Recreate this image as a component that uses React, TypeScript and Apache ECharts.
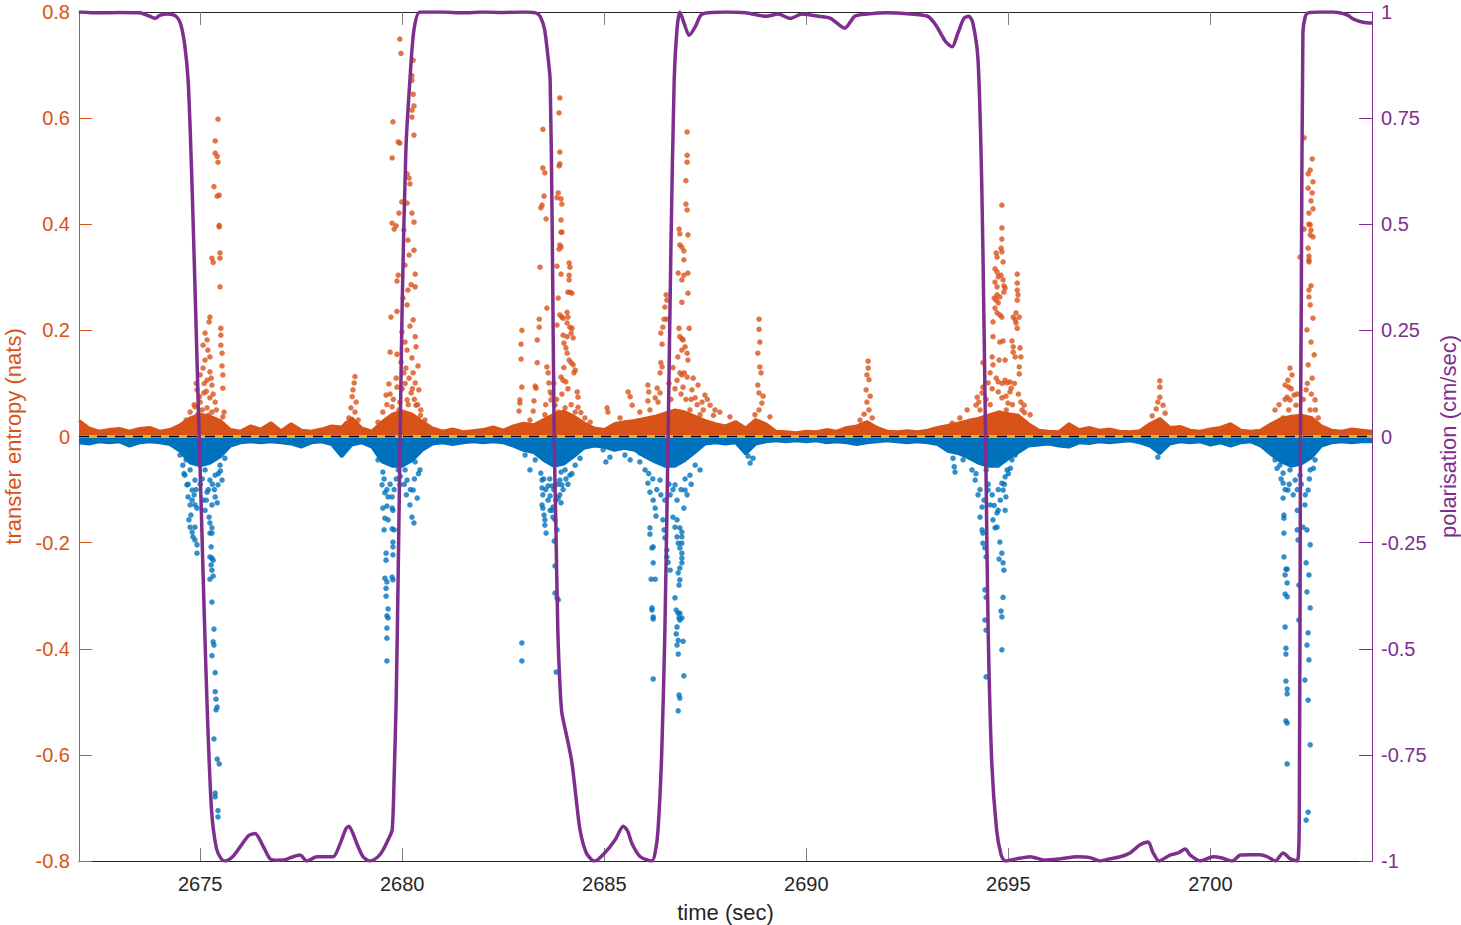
import React, { useEffect, useRef } from "react";
import * as echarts from "echarts";

type Pt = [number, number];

const FONT = "'Liberation Sans', Arial, Helvetica, sans-serif";
const ORANGE = "#D95319";
const BLUE = "#0072BD";
const YELLOW = "#EDB120";
const PURPLE = "#7E2F8E";
const INK = "#262626";
const TICK_GRAY = "#7f7f7f";

// axis ranges and tick positions
const timeMin = 2672;
const timeMax = 2704;
const timeTicks = [2675, 2680, 2685, 2690, 2695, 2700];
const entropyMin = -0.8;
const entropyMax = 0.8;
const entropyStep = 0.2;
const polarMin = -1;
const polarMax = 1;
const polarStep = 0.25;

// polarisation trace (cm/sec), right axis
const polarisation: Pt[] = [
  [2672.0, 1.0], [2672.5, 0.998], [2673.0, 0.999], [2673.5, 0.998], [2673.75, 0.99],
  [2673.88, 0.985], [2674.0, 0.992], [2674.2, 0.995], [2674.4, 0.99], [2674.52, 0.97],
  [2674.62, 0.92], [2674.7, 0.84], [2674.76, 0.7], [2674.82, 0.52], [2674.88, 0.32],
  [2674.95, 0.08], [2675.02, -0.15], [2675.1, -0.42], [2675.18, -0.66], [2675.28, -0.88],
  [2675.4, -0.97], [2675.52, -0.995], [2675.61, -1.0], [2675.8, -0.99], [2676.0, -0.965],
  [2676.2, -0.94], [2676.36, -0.935], [2676.53, -0.96], [2676.73, -0.995], [2676.9, -0.998],
  [2677.1, -0.997], [2677.3, -0.99], [2677.47, -0.986], [2677.64, -1.0], [2677.89, -0.99],
  [2678.1, -0.99], [2678.29, -0.99], [2678.46, -0.96], [2678.6, -0.925], [2678.68, -0.918],
  [2678.78, -0.935], [2678.88, -0.96], [2679.03, -0.99], [2679.2, -1.0], [2679.4, -0.99],
  [2679.52, -0.975], [2679.65, -0.95], [2679.75, -0.927], [2679.8, -0.8], [2679.85, -0.62],
  [2679.9, -0.32], [2679.95, 0.015], [2680.0, 0.32], [2680.09, 0.675], [2680.19, 0.84],
  [2680.29, 0.958], [2680.44, 1.0], [2681.0, 1.0], [2681.5, 0.998], [2682.0, 1.0],
  [2682.5, 0.999], [2683.0, 1.0], [2683.3, 0.998], [2683.41, 0.99], [2683.52, 0.96],
  [2683.6, 0.9], [2683.66, 0.84], [2683.71, 0.5], [2683.76, 0.0], [2683.8, -0.2],
  [2683.85, -0.456], [2683.9, -0.58], [2683.95, -0.651], [2684.08, -0.71], [2684.2, -0.769],
  [2684.3, -0.85], [2684.4, -0.927], [2684.55, -0.98], [2684.7, -0.998], [2684.77, -1.0],
  [2685.02, -0.98], [2685.27, -0.95], [2685.47, -0.918], [2685.58, -0.93], [2685.69, -0.96],
  [2685.89, -0.99], [2686.18, -1.0], [2686.26, -0.98], [2686.33, -0.927], [2686.42, -0.75],
  [2686.5, -0.456], [2686.58, 0.0], [2686.65, 0.45], [2686.73, 0.84], [2686.8, 0.96],
  [2686.87, 1.0], [2686.97, 0.975], [2687.1, 0.945], [2687.25, 0.965], [2687.42, 0.995],
  [2688.0, 1.0], [2688.5, 0.998], [2689.0, 0.99], [2689.3, 0.995], [2689.6, 0.985],
  [2689.9, 0.995], [2690.3, 0.99], [2690.6, 0.985], [2690.95, 0.962], [2691.2, 0.99],
  [2691.5, 0.995], [2692.0, 0.998], [2692.5, 0.996], [2693.0, 0.99], [2693.2, 0.97],
  [2693.45, 0.93], [2693.61, 0.918], [2693.75, 0.95], [2693.9, 0.985], [2694.02, 0.99],
  [2694.12, 0.975], [2694.25, 0.887], [2694.34, 0.604], [2694.4, 0.25], [2694.45, -0.102],
  [2694.5, -0.456], [2694.59, -0.769], [2694.71, -0.927], [2694.82, -0.985], [2694.92, -1.0],
  [2695.2, -0.995], [2695.54, -0.99], [2695.9, -0.998], [2696.28, -0.995], [2696.7, -0.99],
  [2697.02, -0.992], [2697.27, -1.0], [2697.5, -0.995], [2697.77, -0.99], [2698.01, -0.981],
  [2698.26, -0.962], [2698.46, -0.955], [2698.58, -0.98], [2698.73, -1.0], [2699.0, -0.986],
  [2699.2, -0.981], [2699.38, -0.972], [2699.5, -0.986], [2699.75, -1.0], [2700.07, -0.99],
  [2700.29, -0.993], [2700.54, -1.0], [2700.74, -0.986], [2701.0, -0.985], [2701.23, -0.985],
  [2701.41, -0.99], [2701.61, -1.0], [2701.8, -0.981], [2701.98, -0.995], [2702.15, -1.0],
  [2702.2, -0.9], [2702.23, 0.0], [2702.25, 0.32], [2702.29, 0.95], [2702.35, 0.99],
  [2702.42, 0.998], [2702.7, 1.0], [2703.04, 1.0], [2703.39, 0.993], [2703.53, 0.984],
  [2703.78, 0.976], [2704.0, 0.974],
];

// dense near-zero transfer entropy: upper edge of the positive band (nats)
const positiveBand: Pt[] = [
  [2672.0, 0.03], [2672.25, 0.016], [2672.5, 0.01], [2672.75, 0.013], [2673.0, 0.015],
  [2673.25, 0.01], [2673.5, 0.015], [2673.75, 0.017], [2674.0, 0.01], [2674.25, 0.013],
  [2674.5, 0.022], [2674.75, 0.035], [2675.0, 0.042], [2675.25, 0.038], [2675.5, 0.03],
  [2675.75, 0.013], [2676.0, 0.01], [2676.25, 0.02], [2676.5, 0.014], [2676.75, 0.026],
  [2677.0, 0.011], [2677.25, 0.024], [2677.5, 0.012], [2677.75, 0.01], [2678.0, 0.014],
  [2678.25, 0.02], [2678.5, 0.018], [2678.75, 0.035], [2679.0, 0.016], [2679.25, 0.01],
  [2679.5, 0.028], [2679.75, 0.042], [2680.0, 0.048], [2680.25, 0.042], [2680.5, 0.028],
  [2680.75, 0.016], [2681.0, 0.01], [2681.25, 0.014], [2681.5, 0.009], [2681.75, 0.011],
  [2682.0, 0.013], [2682.25, 0.018], [2682.5, 0.012], [2682.75, 0.02], [2683.0, 0.025],
  [2683.25, 0.022], [2683.5, 0.032], [2683.75, 0.042], [2684.0, 0.048], [2684.25, 0.038],
  [2684.5, 0.026], [2684.75, 0.016], [2685.0, 0.013], [2685.25, 0.024], [2685.5, 0.028],
  [2685.75, 0.03], [2686.0, 0.034], [2686.25, 0.038], [2686.5, 0.044], [2686.75, 0.05],
  [2687.0, 0.046], [2687.25, 0.038], [2687.5, 0.03], [2687.75, 0.024], [2688.0, 0.02],
  [2688.25, 0.028], [2688.5, 0.016], [2688.75, 0.032], [2689.0, 0.024], [2689.25, 0.01],
  [2689.5, 0.009], [2689.75, 0.007], [2690.0, 0.01], [2690.25, 0.009], [2690.5, 0.013],
  [2690.75, 0.01], [2691.0, 0.017], [2691.25, 0.02], [2691.5, 0.028], [2691.75, 0.017],
  [2692.0, 0.01], [2692.25, 0.009], [2692.5, 0.011], [2692.75, 0.009], [2693.0, 0.012],
  [2693.25, 0.017], [2693.5, 0.021], [2693.75, 0.025], [2694.0, 0.03], [2694.25, 0.034],
  [2694.5, 0.04], [2694.75, 0.046], [2695.0, 0.043], [2695.25, 0.04], [2695.5, 0.024],
  [2695.75, 0.012], [2696.0, 0.01], [2696.25, 0.009], [2696.5, 0.024], [2696.75, 0.013],
  [2697.0, 0.017], [2697.25, 0.012], [2697.5, 0.014], [2697.75, 0.01], [2698.0, 0.009],
  [2698.25, 0.011], [2698.5, 0.024], [2698.75, 0.034], [2699.0, 0.017], [2699.25, 0.019],
  [2699.5, 0.012], [2699.75, 0.01], [2700.0, 0.014], [2700.25, 0.017], [2700.5, 0.024],
  [2700.75, 0.012], [2701.0, 0.01], [2701.25, 0.012], [2701.5, 0.024], [2701.75, 0.034],
  [2702.0, 0.038], [2702.25, 0.04], [2702.5, 0.036], [2702.75, 0.02], [2703.0, 0.012],
  [2703.25, 0.01], [2703.5, 0.014], [2703.75, 0.012], [2704.0, 0.01],
];

// lower edge of the negative band (nats)
const negativeBand: Pt[] = [
  [2672.0, -0.012], [2672.25, -0.014], [2672.5, -0.01], [2672.75, -0.012], [2673.0, -0.01],
  [2673.25, -0.018], [2673.5, -0.012], [2673.75, -0.01], [2674.0, -0.012], [2674.25, -0.015],
  [2674.5, -0.028], [2674.75, -0.05], [2675.0, -0.055], [2675.25, -0.05], [2675.5, -0.038],
  [2675.75, -0.018], [2676.0, -0.012], [2676.25, -0.01], [2676.5, -0.012], [2676.75, -0.01],
  [2677.0, -0.012], [2677.25, -0.014], [2677.5, -0.02], [2677.75, -0.012], [2678.0, -0.01],
  [2678.25, -0.015], [2678.5, -0.038], [2678.75, -0.016], [2679.0, -0.012], [2679.25, -0.02],
  [2679.5, -0.048], [2679.75, -0.056], [2680.0, -0.056], [2680.25, -0.045], [2680.5, -0.026],
  [2680.75, -0.014], [2681.0, -0.012], [2681.25, -0.015], [2681.5, -0.012], [2681.75, -0.01],
  [2682.0, -0.012], [2682.25, -0.01], [2682.5, -0.012], [2682.75, -0.018], [2683.0, -0.026],
  [2683.25, -0.03], [2683.5, -0.045], [2683.75, -0.056], [2684.0, -0.052], [2684.25, -0.038],
  [2684.5, -0.022], [2684.75, -0.018], [2685.0, -0.02], [2685.25, -0.026], [2685.5, -0.022],
  [2685.75, -0.026], [2686.0, -0.038], [2686.25, -0.048], [2686.5, -0.056], [2686.75, -0.056],
  [2687.0, -0.045], [2687.25, -0.03], [2687.5, -0.014], [2687.75, -0.012], [2688.0, -0.014],
  [2688.25, -0.012], [2688.5, -0.033], [2688.75, -0.014], [2689.0, -0.01], [2689.25, -0.008],
  [2689.5, -0.01], [2689.75, -0.008], [2690.0, -0.01], [2690.25, -0.008], [2690.5, -0.012],
  [2690.75, -0.01], [2691.0, -0.012], [2691.25, -0.015], [2691.5, -0.012], [2691.75, -0.01],
  [2692.0, -0.008], [2692.25, -0.01], [2692.5, -0.012], [2692.75, -0.01], [2693.0, -0.012],
  [2693.25, -0.015], [2693.5, -0.028], [2693.75, -0.032], [2694.0, -0.04], [2694.25, -0.05],
  [2694.5, -0.056], [2694.75, -0.056], [2695.0, -0.042], [2695.25, -0.03], [2695.5, -0.018],
  [2695.75, -0.016], [2696.0, -0.014], [2696.25, -0.018], [2696.5, -0.02], [2696.75, -0.012],
  [2697.0, -0.013], [2697.25, -0.01], [2697.5, -0.012], [2697.75, -0.01], [2698.0, -0.008],
  [2698.25, -0.012], [2698.5, -0.018], [2698.75, -0.032], [2699.0, -0.014], [2699.25, -0.01],
  [2699.5, -0.012], [2699.75, -0.01], [2700.0, -0.016], [2700.25, -0.012], [2700.5, -0.018],
  [2700.75, -0.012], [2701.0, -0.01], [2701.25, -0.018], [2701.5, -0.034], [2701.75, -0.048],
  [2702.0, -0.056], [2702.25, -0.052], [2702.5, -0.04], [2702.75, -0.018], [2703.0, -0.012],
  [2703.25, -0.01], [2703.5, -0.012], [2703.75, -0.01], [2704.0, -0.01],
];

// positive transfer entropy samples, burst by burst
const positive2675: Pt[] = [
  [2675.44, 0.598], [2675.37, 0.557], [2675.37, 0.534], [2675.42, 0.528], [2675.44, 0.517],
  [2675.34, 0.471], [2675.42, 0.453], [2675.47, 0.455], [2675.47, 0.398], [2675.47, 0.395],
  [2675.49, 0.346], [2675.29, 0.336], [2675.32, 0.328], [2675.49, 0.336], [2675.49, 0.282],
  [2675.24, 0.225], [2675.22, 0.216], [2675.51, 0.204], [2675.51, 0.191], [2675.51, 0.172],
  [2675.54, 0.157], [2675.54, 0.133], [2675.56, 0.116], [2675.56, 0.091], [2675.59, 0.046],
  [2675.56, 0.037], [2675.12, 0.195], [2675.17, 0.182], [2675.07, 0.172], [2675.19, 0.163],
  [2675.24, 0.15], [2675.12, 0.144], [2675.07, 0.129], [2675.24, 0.122], [2675.0, 0.116],
  [2675.17, 0.106], [2675.29, 0.097], [2674.92, 0.088], [2675.09, 0.082], [2675.24, 0.073],
  [2675.0, 0.065], [2675.37, 0.065], [2674.87, 0.056], [2675.17, 0.054], [2675.29, 0.046],
  [2674.75, 0.046], [2674.94, 0.041], [2675.07, 0.035], [2674.65, 0.031], [2675.37, 0.031],
  [2674.85, 0.06], [2674.98, 0.075], [2675.05, 0.05], [2675.15, 0.085], [2675.2, 0.04],
  [2675.32, 0.08], [2675.4, 0.05], [2675.27, 0.11], [2674.9, 0.1], [2675.1, 0.1],
];
const positive2678: Pt[] = [
  [2678.83, 0.113], [2678.81, 0.101], [2678.78, 0.088], [2678.76, 0.075], [2678.86, 0.065],
  [2678.73, 0.054], [2678.83, 0.046], [2678.68, 0.035], [2678.91, 0.031], [2678.61, 0.024],
];
const positive2680: Pt[] = [
  [2679.94, 0.749], [2679.97, 0.722], [2680.27, 0.709], [2680.24, 0.68], [2680.24, 0.671],
  [2680.27, 0.645], [2680.29, 0.623], [2680.24, 0.615], [2680.24, 0.602], [2679.77, 0.593],
  [2680.29, 0.568], [2679.9, 0.555], [2679.94, 0.553], [2679.75, 0.525], [2680.12, 0.495],
  [2680.17, 0.487], [2680.19, 0.476], [2679.99, 0.442], [2680.12, 0.44], [2680.24, 0.421],
  [2679.92, 0.421], [2679.75, 0.402], [2680.29, 0.404], [2679.85, 0.397], [2679.8, 0.391],
  [2680.04, 0.389], [2680.14, 0.37], [2680.29, 0.351], [2680.17, 0.342], [2680.07, 0.323],
  [2679.9, 0.304], [2680.32, 0.306], [2679.87, 0.293], [2680.22, 0.286], [2680.32, 0.282],
  [2680.14, 0.276], [2680.02, 0.261], [2680.12, 0.248], [2679.87, 0.236], [2679.72, 0.225],
  [2680.27, 0.22], [2680.19, 0.208], [2679.99, 0.197], [2680.32, 0.188], [2680.07, 0.178],
  [2680.34, 0.169], [2680.12, 0.163], [2679.7, 0.159], [2679.87, 0.155], [2680.24, 0.148],
  [2679.97, 0.14], [2680.39, 0.133], [2680.09, 0.129], [2680.27, 0.12], [2680.04, 0.12],
  [2680.17, 0.11], [2680.32, 0.101], [2679.67, 0.099], [2679.87, 0.093], [2680.41, 0.088],
  [2680.22, 0.082], [2679.6, 0.078], [2680.12, 0.069], [2679.94, 0.065], [2680.34, 0.059],
  [2679.75, 0.056], [2680.46, 0.05], [2679.52, 0.046], [2680.04, 0.042], [2680.19, 0.035],
  [2679.82, 0.031], [2680.56, 0.031], [2679.4, 0.027],
  [2679.62, 0.06], [2679.7, 0.08], [2679.78, 0.07], [2679.85, 0.11], [2679.92, 0.05],
  [2680.0, 0.09], [2680.07, 0.1], [2680.15, 0.06], [2680.25, 0.09], [2680.3, 0.07],
  [2680.38, 0.06], [2680.45, 0.04],
];
const positive2684: Pt[] = [
  [2683.9, 0.638], [2683.88, 0.61], [2683.48, 0.579], [2683.48, 0.506], [2683.53, 0.497],
  [2683.9, 0.536], [2683.9, 0.514], [2683.88, 0.51], [2683.51, 0.453], [2683.46, 0.436],
  [2683.43, 0.431], [2683.56, 0.41], [2683.86, 0.459], [2683.83, 0.45], [2683.93, 0.448],
  [2683.95, 0.438], [2683.93, 0.408], [2683.93, 0.385], [2683.95, 0.385], [2683.88, 0.353],
  [2683.9, 0.361], [2683.93, 0.357], [2683.41, 0.319], [2683.83, 0.321], [2683.93, 0.306],
  [2684.13, 0.327], [2684.15, 0.319], [2684.13, 0.304], [2684.13, 0.295], [2683.58, 0.242],
  [2683.86, 0.261], [2684.1, 0.272], [2684.15, 0.272], [2684.2, 0.27], [2683.39, 0.221],
  [2683.39, 0.206], [2682.96, 0.2], [2682.94, 0.174], [2682.94, 0.146], [2683.34, 0.182],
  [2683.34, 0.139], [2683.9, 0.229], [2683.95, 0.225], [2683.98, 0.223], [2684.08, 0.234],
  [2684.1, 0.225], [2684.08, 0.214], [2683.83, 0.21], [2683.98, 0.191], [2684.08, 0.188],
  [2684.15, 0.206], [2684.2, 0.204], [2684.18, 0.195], [2684.23, 0.186], [2684.0, 0.176],
  [2684.05, 0.167], [2684.08, 0.157], [2682.96, 0.093], [2683.29, 0.095], [2683.31, 0.091],
  [2682.91, 0.069], [2682.91, 0.063], [2682.89, 0.048], [2683.26, 0.067], [2683.24, 0.048],
  [2683.58, 0.131], [2683.61, 0.12], [2684.13, 0.144], [2684.18, 0.139], [2684.23, 0.135],
  [2684.28, 0.125], [2684.25, 0.12], [2683.93, 0.112], [2683.98, 0.106], [2684.05, 0.103],
  [2684.33, 0.084], [2684.35, 0.074], [2683.63, 0.101], [2683.66, 0.084], [2683.68, 0.069],
  [2683.78, 0.059], [2684.03, 0.054], [2683.86, 0.046], [2683.53, 0.041], [2684.28, 0.046],
  [2684.52, 0.035], [2683.16, 0.031], [2684.65, 0.027],
  [2683.55, 0.06], [2683.7, 0.08], [2683.75, 0.1], [2683.82, 0.07], [2683.95, 0.08],
  [2684.0, 0.13], [2684.1, 0.09], [2684.18, 0.06], [2684.35, 0.055], [2684.42, 0.045],
  [2685.07, 0.054], [2685.09, 0.046], [2685.59, 0.084], [2685.64, 0.075], [2685.69, 0.059],
  [2686.08, 0.097], [2686.1, 0.084], [2686.08, 0.067], [2686.13, 0.05], [2685.88, 0.046],
  [2685.39, 0.035], [2686.26, 0.073], [2686.31, 0.091],
];
const positive2687: Pt[] = [
  [2687.05, 0.574], [2687.05, 0.53], [2687.05, 0.517], [2687.02, 0.482], [2687.02, 0.438],
  [2687.05, 0.427], [2686.85, 0.391], [2686.87, 0.382], [2687.07, 0.38], [2686.87, 0.361],
  [2686.92, 0.357], [2686.97, 0.35], [2686.97, 0.333], [2686.83, 0.308], [2686.92, 0.295],
  [2687.07, 0.308], [2686.97, 0.304], [2687.07, 0.27], [2686.92, 0.253], [2686.53, 0.267],
  [2686.55, 0.257], [2686.5, 0.244], [2686.48, 0.221], [2686.55, 0.221], [2686.45, 0.206],
  [2686.4, 0.195], [2686.43, 0.174], [2686.85, 0.204], [2687.1, 0.204], [2686.87, 0.188],
  [2686.92, 0.184], [2686.95, 0.182], [2687.0, 0.169], [2686.92, 0.163], [2687.05, 0.157],
  [2687.07, 0.144], [2686.4, 0.139], [2686.43, 0.131], [2686.38, 0.12], [2686.8, 0.106],
  [2686.87, 0.12], [2686.92, 0.116], [2687.05, 0.112], [2686.95, 0.093], [2686.38, 0.082],
  [2686.33, 0.065], [2687.17, 0.088], [2687.25, 0.073], [2687.32, 0.097], [2687.42, 0.065],
  [2687.49, 0.078], [2687.62, 0.059], [2687.74, 0.05], [2687.12, 0.05], [2687.37, 0.041],
  [2687.86, 0.046], [2688.11, 0.037],
  [2686.6, 0.1], [2686.65, 0.07], [2686.7, 0.13], [2686.75, 0.09], [2686.82, 0.15],
  [2686.9, 0.08], [2686.98, 0.12], [2687.02, 0.07], [2687.15, 0.07], [2687.2, 0.11],
  [2687.3, 0.06], [2687.45, 0.05], [2687.55, 0.07], [2687.7, 0.04],
];
const positive2689: Pt[] = [
  [2688.83, 0.221], [2688.83, 0.202], [2688.85, 0.178], [2688.8, 0.157], [2688.85, 0.131],
  [2688.88, 0.12], [2688.8, 0.097], [2688.83, 0.082], [2688.9, 0.063], [2688.83, 0.05],
  [2689.1, 0.037], [2688.73, 0.041], [2688.93, 0.076],
];
const positive2691: Pt[] = [
  [2691.53, 0.142], [2691.53, 0.129], [2691.5, 0.116], [2691.55, 0.107], [2691.48, 0.088],
  [2691.58, 0.076], [2691.5, 0.065], [2691.55, 0.05], [2691.43, 0.042], [2691.63, 0.035],
  [2691.33, 0.031],
];
const positive2695: Pt[] = [
  [2694.84, 0.436], [2694.84, 0.393], [2694.84, 0.372], [2694.82, 0.355], [2694.84, 0.348],
  [2694.7, 0.346], [2694.72, 0.338], [2694.87, 0.329], [2694.67, 0.316], [2694.72, 0.31],
  [2694.75, 0.301], [2694.67, 0.291], [2694.72, 0.282], [2694.82, 0.304], [2694.87, 0.295],
  [2694.89, 0.284], [2694.72, 0.267], [2694.7, 0.257], [2694.75, 0.252], [2694.79, 0.263],
  [2694.65, 0.261], [2694.89, 0.272], [2694.92, 0.28], [2695.22, 0.306], [2695.22, 0.289],
  [2695.22, 0.276], [2695.24, 0.267], [2695.22, 0.257], [2695.19, 0.233], [2695.12, 0.225],
  [2695.17, 0.22], [2695.19, 0.214], [2695.22, 0.204], [2695.27, 0.225], [2694.67, 0.242],
  [2694.72, 0.233], [2694.79, 0.229], [2694.84, 0.225], [2694.79, 0.178], [2694.87, 0.18],
  [2694.62, 0.216], [2694.62, 0.188], [2695.09, 0.18], [2695.12, 0.169], [2695.12, 0.159],
  [2695.17, 0.15], [2695.29, 0.167], [2695.31, 0.15], [2695.27, 0.131], [2695.27, 0.118],
  [2694.6, 0.15], [2694.62, 0.135], [2694.77, 0.144], [2694.92, 0.144], [2694.75, 0.103],
  [2694.92, 0.106], [2694.97, 0.101], [2695.04, 0.103], [2695.07, 0.091], [2694.55, 0.12],
  [2694.5, 0.101], [2694.37, 0.139], [2694.37, 0.093], [2694.35, 0.082], [2694.23, 0.074],
  [2694.2, 0.059], [2694.27, 0.065], [2693.98, 0.05], [2695.31, 0.065], [2695.39, 0.059],
  [2695.34, 0.05], [2694.75, 0.084], [2694.84, 0.073], [2694.94, 0.076], [2695.04, 0.084],
  [2694.99, 0.063], [2694.79, 0.044], [2693.61, 0.025], [2693.8, 0.035], [2695.54, 0.041],
  [2694.3, 0.05], [2694.45, 0.07], [2694.55, 0.06], [2694.6, 0.09], [2694.7, 0.11],
  [2694.85, 0.1], [2694.95, 0.05], [2695.1, 0.06], [2695.15, 0.1], [2695.25, 0.08],
  [2695.4, 0.045],
];
const positive2699: Pt[] = [
  [2698.75, 0.105], [2698.75, 0.093], [2698.75, 0.074], [2698.7, 0.065], [2698.83, 0.059],
  [2698.66, 0.052], [2698.88, 0.044], [2698.56, 0.039],
];
const positive2702: Pt[] = [
  [2702.32, 0.563], [2702.52, 0.523], [2702.47, 0.502], [2702.42, 0.495], [2702.54, 0.48],
  [2702.42, 0.468], [2702.52, 0.459], [2702.49, 0.444], [2702.54, 0.429], [2702.44, 0.421],
  [2702.44, 0.4], [2702.47, 0.399], [2702.32, 0.391], [2702.49, 0.389], [2702.47, 0.38],
  [2702.54, 0.376], [2702.42, 0.355], [2702.22, 0.338], [2702.44, 0.34], [2702.44, 0.333],
  [2702.44, 0.329], [2702.49, 0.284], [2702.44, 0.276], [2702.44, 0.263], [2702.47, 0.248],
  [2702.54, 0.223], [2702.39, 0.201], [2702.49, 0.178], [2702.57, 0.154], [2702.42, 0.135],
  [2702.52, 0.11], [2702.37, 0.088], [2702.59, 0.069], [2702.47, 0.05], [2702.67, 0.035],
  [2701.97, 0.129], [2701.92, 0.106], [2701.94, 0.093], [2701.9, 0.074], [2701.97, 0.069],
  [2701.94, 0.05], [2701.8, 0.035], [2702.07, 0.078], [2702.12, 0.059], [2701.85, 0.097],
  [2702.02, 0.116],
  [2701.6, 0.05], [2701.7, 0.06], [2701.85, 0.07], [2702.0, 0.09], [2702.15, 0.08],
  [2702.3, 0.07], [2702.4, 0.1], [2702.5, 0.08], [2702.6, 0.05],
];

// negative transfer entropy samples, burst by burst
const negative2675: Pt[] = [
  [2674.75, -0.171], [2674.87, -0.171], [2674.8, -0.18], [2674.82, -0.189], [2674.87, -0.195],
  [2674.92, -0.204], [2674.92, -0.22], [2674.72, -0.157], [2674.75, -0.129], [2674.7, -0.114],
  [2674.8, -0.101], [2674.87, -0.129], [2674.92, -0.135], [2674.62, -0.073], [2674.67, -0.091],
  [2674.57, -0.054], [2674.75, -0.063], [2674.87, -0.082], [2674.5, -0.035], [2674.65, -0.044],
  [2674.85, -0.11], [2674.77, -0.148], [2675.44, -0.091], [2675.37, -0.114], [2675.42, -0.125],
  [2675.22, -0.152], [2675.24, -0.163], [2675.29, -0.172], [2675.24, -0.182], [2675.29, -0.182],
  [2675.27, -0.208], [2675.24, -0.227], [2675.29, -0.229], [2675.32, -0.233], [2675.27, -0.242],
  [2675.29, -0.252], [2675.32, -0.263], [2675.24, -0.269], [2675.29, -0.312], [2675.34, -0.363],
  [2675.32, -0.387], [2675.34, -0.393], [2675.29, -0.413], [2675.37, -0.445], [2675.37, -0.481],
  [2675.39, -0.495], [2675.42, -0.51], [2675.39, -0.515], [2675.34, -0.57], [2675.42, -0.608],
  [2675.47, -0.617], [2675.37, -0.672], [2675.37, -0.679], [2675.44, -0.705], [2675.44, -0.717],
  [2675.12, -0.063], [2675.24, -0.082], [2675.37, -0.073], [2675.49, -0.054], [2675.17, -0.105],
  [2675.07, -0.12], [2675.54, -0.082], [2675.61, -0.041], [2675.29, -0.129], [2675.0, -0.044],
  [2675.12, -0.139],
  [2674.6, -0.07], [2674.7, -0.09], [2674.8, -0.12], [2674.9, -0.1], [2675.0, -0.09],
  [2675.05, -0.08], [2675.15, -0.12], [2675.2, -0.1], [2675.3, -0.09], [2675.35, -0.1],
  [2675.45, -0.07], [2675.5, -0.065],
];
const negative2680: Pt[] = [
  [2679.52, -0.067], [2679.5, -0.091], [2679.57, -0.106], [2679.65, -0.114], [2679.75, -0.114],
  [2679.52, -0.135], [2679.62, -0.131], [2679.75, -0.135], [2679.77, -0.139], [2679.57, -0.154],
  [2679.65, -0.157], [2679.55, -0.176], [2679.75, -0.174], [2679.8, -0.176], [2679.6, -0.22],
  [2679.6, -0.233], [2679.77, -0.199], [2679.77, -0.208], [2679.77, -0.223], [2679.57, -0.267],
  [2679.62, -0.274], [2679.75, -0.265], [2679.77, -0.27], [2679.6, -0.286], [2679.6, -0.301],
  [2679.65, -0.325], [2679.62, -0.338], [2679.65, -0.342], [2679.62, -0.361], [2679.62, -0.38],
  [2679.62, -0.423], [2680.24, -0.152], [2680.29, -0.163], [2680.12, -0.082], [2680.27, -0.101],
  [2680.37, -0.116], [2680.19, -0.129], [2680.07, -0.063], [2680.32, -0.048], [2680.44, -0.063],
  [2679.4, -0.044], [2679.45, -0.025], [2679.9, -0.063], [2679.94, -0.091], [2680.02, -0.044],
  [2679.55, -0.08], [2679.62, -0.1], [2679.7, -0.09], [2679.8, -0.1], [2679.85, -0.08],
  [2679.95, -0.075], [2680.05, -0.09], [2680.1, -0.11], [2680.2, -0.1], [2680.3, -0.08],
  [2680.4, -0.07],
];
const negative2684: Pt[] = [
  [2682.96, -0.389], [2682.96, -0.423], [2683.43, -0.069], [2683.46, -0.082], [2683.46, -0.097],
  [2683.48, -0.11], [2683.46, -0.129], [2683.48, -0.135], [2683.51, -0.148], [2683.53, -0.157],
  [2683.53, -0.167], [2683.56, -0.182], [2683.61, -0.093], [2683.71, -0.093], [2683.66, -0.112],
  [2683.61, -0.12], [2683.66, -0.139], [2683.71, -0.139], [2683.73, -0.152], [2683.73, -0.133],
  [2683.86, -0.116], [2683.93, -0.125], [2683.9, -0.11], [2683.95, -0.091], [2683.9, -0.082],
  [2683.93, -0.067], [2683.78, -0.157], [2683.83, -0.176], [2683.76, -0.197], [2683.78, -0.244],
  [2683.78, -0.295], [2683.83, -0.304], [2683.86, -0.308], [2683.81, -0.444], [2684.03, -0.063],
  [2684.15, -0.073], [2684.28, -0.054], [2683.16, -0.063], [2683.29, -0.044], [2683.04, -0.035],
  [2684.4, -0.041], [2684.97, -0.025], [2685.14, -0.039], [2685.39, -0.02], [2685.64, -0.044],
  [2685.88, -0.031], [2685.04, -0.048], [2685.51, -0.035],
  [2683.5, -0.08], [2683.55, -0.1], [2683.65, -0.08], [2683.75, -0.1], [2683.8, -0.12],
  [2683.85, -0.09], [2683.98, -0.1], [2684.05, -0.08], [2684.1, -0.09], [2684.2, -0.07],
];
const negative2687: Pt[] = [
  [2686.13, -0.172], [2686.13, -0.184], [2686.18, -0.21], [2686.21, -0.208], [2686.21, -0.238],
  [2686.16, -0.269], [2686.26, -0.269], [2686.18, -0.323], [2686.18, -0.327], [2686.21, -0.34],
  [2686.21, -0.344], [2686.21, -0.457], [2686.08, -0.088], [2686.13, -0.105], [2686.21, -0.12],
  [2686.26, -0.135], [2686.28, -0.15], [2686.45, -0.157], [2686.48, -0.176], [2686.5, -0.191],
  [2686.55, -0.214], [2686.55, -0.227], [2686.58, -0.237], [2686.63, -0.252], [2686.75, -0.304],
  [2686.78, -0.327], [2686.83, -0.333], [2686.85, -0.342], [2686.87, -0.346], [2686.92, -0.342],
  [2686.87, -0.333], [2686.8, -0.359], [2686.78, -0.372], [2686.83, -0.384], [2686.8, -0.393],
  [2686.95, -0.386], [2686.83, -0.41], [2686.97, -0.451], [2686.85, -0.487], [2686.87, -0.493],
  [2686.83, -0.517], [2686.87, -0.172], [2686.92, -0.18], [2686.92, -0.189], [2686.92, -0.201],
  [2686.87, -0.21], [2686.92, -0.22], [2686.92, -0.229], [2686.92, -0.238], [2686.87, -0.248],
  [2686.83, -0.257], [2686.87, -0.27], [2686.85, -0.28], [2686.97, -0.135], [2686.7, -0.152],
  [2686.8, -0.157], [2686.75, -0.171], [2686.8, -0.189], [2686.83, -0.201], [2686.38, -0.082],
  [2686.63, -0.11], [2686.75, -0.091], [2687.0, -0.101], [2687.12, -0.073], [2687.25, -0.054],
  [2687.37, -0.063], [2686.01, -0.063], [2685.88, -0.048],
  [2686.1, -0.07], [2686.2, -0.08], [2686.3, -0.1], [2686.4, -0.11], [2686.5, -0.12],
  [2686.6, -0.09], [2686.7, -0.1], [2686.8, -0.12], [2686.9, -0.1], [2687.0, -0.08],
  [2687.05, -0.11], [2687.15, -0.09],
  [2688.61, -0.05], [2688.56, -0.037], [2688.68, -0.041],
];
const negative2695: Pt[] = [
  [2693.63, -0.041], [2693.66, -0.057], [2693.68, -0.067], [2694.42, -0.289], [2694.45, -0.303],
  [2694.42, -0.346], [2694.45, -0.365], [2694.45, -0.453], [2694.35, -0.133], [2694.3, -0.152],
  [2694.35, -0.176], [2694.37, -0.182], [2694.37, -0.201], [2694.42, -0.21], [2694.45, -0.227],
  [2694.79, -0.199], [2694.84, -0.22], [2694.77, -0.231], [2694.87, -0.238], [2694.89, -0.252],
  [2694.87, -0.303], [2694.82, -0.329], [2694.84, -0.34], [2694.84, -0.402], [2694.72, -0.171],
  [2694.67, -0.172], [2694.62, -0.157], [2694.72, -0.144], [2694.75, -0.139], [2694.92, -0.139],
  [2694.94, -0.114], [2694.87, -0.101], [2694.84, -0.088], [2694.92, -0.076], [2694.97, -0.063],
  [2694.18, -0.082], [2694.25, -0.11], [2694.1, -0.063], [2694.5, -0.101], [2694.55, -0.129],
  [2694.45, -0.063], [2693.88, -0.044], [2695.09, -0.044], [2695.17, -0.035],
  [2694.2, -0.07], [2694.3, -0.1], [2694.4, -0.12], [2694.5, -0.09], [2694.6, -0.11],
  [2694.65, -0.13], [2694.75, -0.1], [2694.8, -0.12], [2694.9, -0.09], [2695.0, -0.07],
  [2695.05, -0.06],
  [2698.7, -0.039], [2698.75, -0.029],
];
const negative2702: Pt[] = [
  [2701.8, -0.069], [2701.8, -0.088], [2701.8, -0.116], [2701.82, -0.148], [2701.82, -0.154],
  [2701.82, -0.182], [2701.82, -0.227], [2701.87, -0.25], [2701.9, -0.25], [2701.85, -0.261],
  [2701.9, -0.276], [2701.85, -0.297], [2701.9, -0.302], [2701.85, -0.359], [2701.87, -0.399],
  [2701.87, -0.41], [2701.87, -0.461], [2701.9, -0.476], [2701.9, -0.485], [2701.87, -0.536],
  [2701.9, -0.54], [2701.9, -0.617], [2702.15, -0.139], [2702.15, -0.176], [2702.17, -0.195],
  [2702.19, -0.28], [2702.19, -0.346], [2702.42, -0.101], [2702.34, -0.129], [2702.29, -0.171],
  [2702.39, -0.176], [2702.47, -0.204], [2702.37, -0.238], [2702.44, -0.261], [2702.39, -0.293],
  [2702.47, -0.323], [2702.42, -0.37], [2702.39, -0.393], [2702.44, -0.421], [2702.34, -0.459],
  [2702.42, -0.497], [2702.47, -0.581], [2702.42, -0.708], [2702.37, -0.723], [2701.6, -0.044],
  [2701.72, -0.054], [2701.97, -0.063], [2702.1, -0.082], [2702.22, -0.073], [2702.47, -0.063],
  [2702.59, -0.044], [2701.92, -0.101], [2701.67, -0.035],
  [2701.65, -0.06], [2701.75, -0.08], [2701.85, -0.1], [2701.95, -0.09], [2702.05, -0.11],
  [2702.15, -0.1], [2702.25, -0.09], [2702.35, -0.11], [2702.45, -0.08], [2702.55, -0.06],
];

// reference lines at zero transfer entropy
const zeroLine: Pt[] = [[2672, 0], [2704, 0]];

const positiveSamples = [
  ...positive2675, ...positive2678, ...positive2680, ...positive2684, ...positive2687,
  ...positive2689, ...positive2691, ...positive2695, ...positive2699, ...positive2702,
];
const negativeSamples = [
  ...negative2675, ...negative2680, ...negative2684, ...negative2687, ...negative2695,
  ...negative2702,
];

const tickLabel = (v: number) => String(Math.round(v * 100) / 100);

export default function App() {
  const ref = useRef<HTMLDivElement | null>(null);

  useEffect(() => {
    if (!ref.current) return;
    const chart = echarts.init(ref.current, undefined, { renderer: "svg" });

    const timeAxisBase = {
      type: "value" as const,
      min: timeMin,
      max: timeMax,
      splitLine: { show: false },
      axisLine: { show: true, onZero: false, lineStyle: { color: INK, width: 1 } },
      axisTick: {
        show: true,
        inside: true,
        length: 13,
        customValues: timeTicks,
        lineStyle: { color: TICK_GRAY, width: 1 },
      },
    };

    chart.setOption({
      animation: false,
      backgroundColor: "#ffffff",
      textStyle: { fontFamily: FONT },
      grid: {
        left: 79,
        right: 89,
        top: 12,
        bottom: 64,
        containLabel: false,
        outerBoundsMode: "none",
      },
      xAxis: [
        {
          ...timeAxisBase,
          position: "bottom",
          name: "time (sec)",
          nameLocation: "middle",
          nameGap: 40,
          nameTextStyle: { color: INK, fontSize: 22, fontFamily: FONT },
          axisLabel: {
            customValues: timeTicks,
            color: INK,
            fontSize: 20,
            margin: 13,
            fontFamily: FONT,
            formatter: (v: number) => String(v),
          },
        },
        {
          ...timeAxisBase,
          position: "top",
          axisLabel: { show: false },
        },
      ],
      yAxis: [
        {
          type: "value",
          position: "left",
          min: entropyMin,
          max: entropyMax,
          interval: entropyStep,
          splitLine: { show: false },
          axisLine: { show: true, onZero: false, lineStyle: { color: ORANGE, width: 1 } },
          axisTick: { show: true, inside: true, length: 13, lineStyle: { color: ORANGE } },
          axisLabel: {
            color: ORANGE,
            fontSize: 20,
            margin: 9,
            fontFamily: FONT,
            formatter: tickLabel,
          },
          name: "transfer entropy (nats)",
          nameLocation: "middle",
          nameRotate: 90,
          nameGap: 52,
          nameTextStyle: { color: ORANGE, fontSize: 22, fontFamily: FONT },
        },
        {
          type: "value",
          position: "right",
          min: polarMin,
          max: polarMax,
          interval: polarStep,
          splitLine: { show: false },
          axisLine: { show: true, onZero: false, lineStyle: { color: PURPLE, width: 1 } },
          axisTick: { show: true, inside: true, length: 13, lineStyle: { color: PURPLE } },
          axisLabel: {
            color: PURPLE,
            fontSize: 20,
            margin: 9,
            fontFamily: FONT,
            formatter: tickLabel,
          },
          name: "polarisation (cm/sec)",
          nameLocation: "middle",
          nameRotate: 90,
          nameGap: 63,
          nameTextStyle: { color: PURPLE, fontSize: 22, fontFamily: FONT },
        },
      ],
      series: [
        {
          name: "negative band",
          type: "line",
          xAxisIndex: 0,
          yAxisIndex: 0,
          data: negativeBand,
          symbol: "none",
          lineStyle: { color: BLUE, width: 3 },
          areaStyle: { color: BLUE, opacity: 1 },
          z: 2,
        },
        {
          name: "positive band",
          type: "line",
          xAxisIndex: 0,
          yAxisIndex: 0,
          data: positiveBand,
          symbol: "none",
          lineStyle: { color: ORANGE, width: 3 },
          areaStyle: { color: ORANGE, opacity: 1 },
          z: 2,
        },
        {
          name: "negative TE",
          type: "scatter",
          xAxisIndex: 0,
          yAxisIndex: 0,
          data: negativeSamples,
          symbol: "circle",
          symbolSize: 5.5,
          itemStyle: { color: BLUE },
          z: 3,
        },
        {
          name: "positive TE",
          type: "scatter",
          xAxisIndex: 0,
          yAxisIndex: 0,
          data: positiveSamples,
          symbol: "circle",
          symbolSize: 5.5,
          itemStyle: { color: ORANGE },
          z: 3,
        },
        {
          name: "net TE",
          type: "line",
          xAxisIndex: 0,
          yAxisIndex: 0,
          data: zeroLine,
          symbol: "none",
          lineStyle: { color: YELLOW, width: 3 },
          z: 4,
        },
        {
          name: "zero",
          type: "line",
          xAxisIndex: 0,
          yAxisIndex: 0,
          data: zeroLine,
          symbol: "none",
          lineStyle: { color: "#000000", width: 1.5, type: [10, 8] },
          z: 5,
        },
        {
          name: "polarisation",
          type: "line",
          xAxisIndex: 0,
          yAxisIndex: 1,
          data: polarisation,
          symbol: "none",
          smooth: 0.25,
          lineStyle: { color: PURPLE, width: 3.5 },
          z: 6,
        },
      ],
    });

    return () => {
      chart.dispose();
    };
  }, []);

  return (
    <div
      ref={ref}
      style={{ position: "fixed", left: 0, top: 0, width: 1461, height: 925, background: "#fff" }}
    />
  );
}
